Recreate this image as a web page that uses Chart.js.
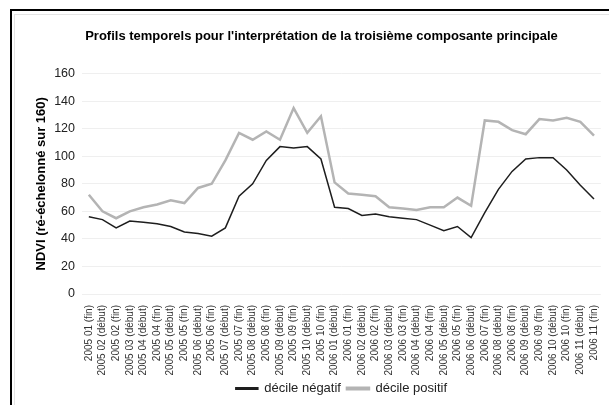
<!DOCTYPE html>
<html>
<head>
<meta charset="utf-8">
<script src="https://cdn.jsdelivr.net/npm/chart.js@4.4.1/dist/chart.umd.min.js"></script>
<style>
  html, body { margin: 0; padding: 0; background: #fff; }
  #wrap { position: relative; width: 609px; height: 405px; overflow: hidden; }
  #frame {
    position: absolute; left: 10px; top: 9px; width: 640px; height: 440px;
    border-left: 2px solid #000; border-top: 2px solid #000;
  }
  #inner {
    position: absolute; left: 14px; top: 14px; width: 640px; height: 440px;
    border-left: 1px solid #e4e4e4; border-top: 1px solid #e4e4e4;
  }
  canvas { position: absolute; left: 0; top: 0; }
</style>
</head>
<body>
<div id="wrap">
  <div id="frame"></div>
  <div id="inner"></div>
  <canvas id="ndviChart" width="609" height="405"></canvas>
</div>
<script>
// Périodes (dates d'acquisition)
const periodes = [
  '2005 01 (fin)', '2005 02 (début)', '2005 02 (fin)', '2005 03 (début)',
  '2005 04 (début)', '2005 04 (fin)', '2005 05 (début)', '2005 05 (fin)',
  '2005 06 (début)', '2005 06 (fin)', '2005 07 (début)', '2005 07 (fin)',
  '2005 08 (début)', '2005 08 (fin)', '2005 09 (début)', '2005 09 (fin)',
  '2005 10 (début)', '2005 10 (fin)', '2006 01 (début)', '2006 01 (fin)',
  '2006 02 (début)', '2006 02 (fin)', '2006 03 (début)', '2006 03 (fin)',
  '2006 04 (début)', '2006 04 (fin)', '2006 05 (début)', '2006 05 (fin)',
  '2006 06 (début)', '2006 07 (fin)', '2006 08 (début)', '2006 08 (fin)',
  '2006 09 (début)', '2006 09 (fin)', '2006 10 (début)', '2006 10 (fin)',
  '2006 11 (début)', '2006 11 (fin)'
];

// Décile négatif (courbe noire)
const decileNegatif = [
  56, 54, 48, 53, 52, 51, 49, 45, 44, 42,
  48, 71, 80, 97, 107, 106, 107, 98, 63, 62,
  57, 58, 56, 55, 54, 50, 46, 49, 41, 59,
  76, 89, 98, 99, 99, 90, 79, 69
];

// Décile positif (courbe grise)
const decilePositif = [
  72, 60, 55, 60, 63, 65, 68, 66, 77, 80,
  97, 117, 112, 118, 112, 135, 117, 129, 81, 73,
  72, 71, 63, 62, 61, 63, 63, 70, 64, 126,
  125, 119, 116, 127, 126, 128, 125, 115
];

const yTicks = [0, 20, 40, 60, 80, 100, 120, 140, 160];

const ctx = document.getElementById('ndviChart').getContext('2d');
const chart = new Chart(ctx, {
  type: 'line',
  data: {
    labels: periodes,
    datasets: [
      {
        label: 'décile négatif',
        data: decileNegatif,
        borderColor: '#1e1e1e',
        backgroundColor: '#1e1e1e',
        borderWidth: 1.5,
        pointRadius: 0,
        tension: 0
      },
      {
        label: 'décile positif',
        data: decilePositif,
        borderColor: '#b4b4b4',
        backgroundColor: '#b4b4b4',
        borderWidth: 2.5,
        pointRadius: 0,
        tension: 0
      }
    ]
  },
  options: {
    responsive: false,
    animation: false,
    layout: { padding: { left: 34, right: 0, top: 0, bottom: 0 } },
    plugins: {
      title: {
        display: true,
        text: "Profils temporels pour l'interprétation de la troisième composante principale",
        color: '#000',
        font: { family: 'Liberation Sans, Arial', size: 13, weight: 'bold' },
        padding: { top: 29, bottom: 29 }
      },
      legend: {
        position: 'bottom',
        fullSize: false,
        labels: {
          color: '#222',
          font: { family: 'Liberation Sans, Arial', size: 13 },
          boxWidth: 22,
          boxHeight: 1.5,
          padding: 6
        }
      },
      tooltip: { enabled: false }
    },
    scales: {
      x: {
        offset: true,
        grid: { display: false },
        border: { display: false },
        afterFit: (scale) => { scale.height = 82; },
        ticks: {
          autoSkip: false,
          minRotation: 90,
          maxRotation: 90,
          color: '#333',
          font: { family: 'Liberation Sans, Arial', size: 10 },
          padding: 3
        }
      },
      y: {
        min: 0,
        max: 160,
        afterBuildTicks: (scale) => { scale.ticks = yTicks.map(v => ({ value: v })); },
        afterFit: (scale) => { scale.width = 48; },
        grid: { color: '#efefef', drawTicks: false },
        border: { display: false },
        title: {
          display: true,
          text: 'NDVI (ré-échelonné sur 160)',
          color: '#000',
          font: { family: 'Liberation Sans, Arial', size: 13, weight: 'bold' },
          padding: 0
        },
        ticks: {
          color: '#222',
          font: { family: 'Liberation Sans, Arial', size: 12.5 },
          padding: 7
        }
      }
    }
  }
});
</script>
</body>
</html>
